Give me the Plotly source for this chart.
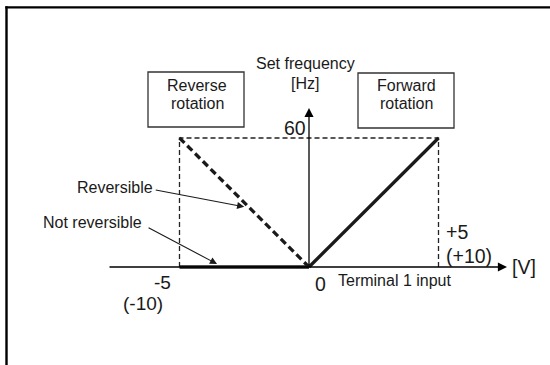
import plotly.graph_objects as go

# ---- data ----
v_limits = [-5, 5]          # terminal 1 input [V] (±5 V, or ±10 V)
max_frequency = 60          # set frequency [Hz]
forward_x = [0, 5]
forward_y = [0, 60]
reversible_x = [-5, 0]
reversible_y = [60, 0]
not_reversible_x = [-5, 0]
not_reversible_y = [0, 0]
guide_x = [-5, -5, 5, 5]
guide_y = [0, 60, 60, 0]

W, H = 550, 365
# pixel mapping of the plotting area
X0_PX, PX_PER_V = 309, 25.9
Y0_PX, PX_PER_HZ = 267, 2.15
x_range = [(0 - X0_PX) / PX_PER_V, (W - X0_PX) / PX_PER_V]
y_range = [(Y0_PX - H) / PX_PER_HZ, (Y0_PX - 0) / PX_PER_HZ]


def px(x):
    return x / W


def py(y):
    return 1 - y / H


FONT = "Liberation Sans, Arial, Helvetica, sans-serif"
INK = "#1a1a1a"

fig = go.Figure()
fig.add_trace(go.Scatter(x=guide_x, y=guide_y, mode="lines",
                         line=dict(color="#222222", width=1.3, dash="5px,3px"),
                         hoverinfo="skip"))
fig.add_trace(go.Scatter(x=not_reversible_x, y=not_reversible_y, mode="lines",
                         line=dict(color=INK, width=3.3), hoverinfo="skip"))
fig.add_trace(go.Scatter(x=reversible_x, y=reversible_y, mode="lines",
                         line=dict(color=INK, width=3.3, dash="7px,4px"),
                         hoverinfo="skip"))
fig.add_trace(go.Scatter(x=forward_x, y=forward_y, mode="lines",
                         line=dict(color=INK, width=3.3), hoverinfo="skip"))

ann = []
# axes with arrows
x_tip = (507 - X0_PX) / PX_PER_V
y_tip = (Y0_PX - 108) / PX_PER_HZ
ann.append(dict(x=x_tip, y=0, xref="x", yref="y", ax=-(507 - 108), ay=0,
                text="", showarrow=True, arrowhead=2, arrowsize=1.4,
                arrowwidth=1.3, arrowcolor="black", standoff=0))
ann.append(dict(x=0, y=y_tip, xref="x", yref="y", ax=0, ay=(Y0_PX - 108),
                text="", showarrow=True, arrowhead=2, arrowsize=1.4,
                arrowwidth=1.3, arrowcolor="black", standoff=0))

# pointer arrows
ann.append(dict(x=-2.5, y=28, xref="x", yref="y", ax=-90, ay=-17,
                text="", showarrow=True, arrowhead=2, arrowsize=1.3,
                arrowwidth=1.1, arrowcolor=INK, standoff=0))
ann.append(dict(x=-3.55, y=1.4, xref="x", yref="y", ax=-70, ay=-37,
                text="", showarrow=True, arrowhead=2, arrowsize=1.3,
                arrowwidth=1.1, arrowcolor=INK, standoff=0))


def label(text, x, y, size=16, xanchor="center"):
    ann.append(dict(x=px(x), y=py(y), xref="paper", yref="paper", text=text,
                    showarrow=False, xanchor=xanchor, yanchor="middle",
                    font=dict(family=FONT, size=size, color=INK)))


label("Set frequency", 305, 63)
label("[Hz]", 305, 83)
label("Reverse", 197, 85)
label("rotation", 197, 103)
label("Forward", 406, 85)
label("rotation", 406, 103)
label(str(max_frequency), 295, 128, size=19.5)
label("Reversible", 115, 187)
label("Not reversible", 92, 222)
label("Terminal 1 input", 395, 280)
label("[V]", 523.5, 267, size=19.5)
label("+5", 456.5, 232, size=19.5)
label("(+10)", 468.5, 256, size=19.5)
label("0", 320, 284, size=19.5)
label("-5", 162.5, 282, size=19)
label("(-10)", 143, 303.5, size=19)

shapes = [
    # boxes
    dict(type="rect", xref="paper", yref="paper", x0=px(148), x1=px(244),
         y0=py(127), y1=py(72), line=dict(color="#333333", width=1.3)),
    dict(type="rect", xref="paper", yref="paper", x0=px(358), x1=px(454),
         y0=py(128), y1=py(73), line=dict(color="#333333", width=1.3)),
    # outer frame (left and top)
    dict(type="line", xref="paper", yref="paper", x0=px(6.5), x1=px(6.5),
         y0=0, y1=py(6.3), line=dict(color="black", width=2.4)),
    dict(type="line", xref="paper", yref="paper", x0=px(5.3), x1=1,
         y0=py(7.4), y1=py(7.4), line=dict(color="black", width=2.4)),
]

fig.update_layout(
    width=W, height=H, margin=dict(l=0, r=0, t=0, b=0),
    paper_bgcolor="white", plot_bgcolor="white", showlegend=False,
    xaxis=dict(range=x_range, visible=False, fixedrange=True),
    yaxis=dict(range=y_range, visible=False, fixedrange=True),
    annotations=ann, shapes=shapes,
)
fig.write_html(
    "out.html",
    config={"displayModeBar": False},
    post_script="document.body.style.margin='0';document.body.style.padding='0';"
                "document.documentElement.style.overflow='hidden';",
)
